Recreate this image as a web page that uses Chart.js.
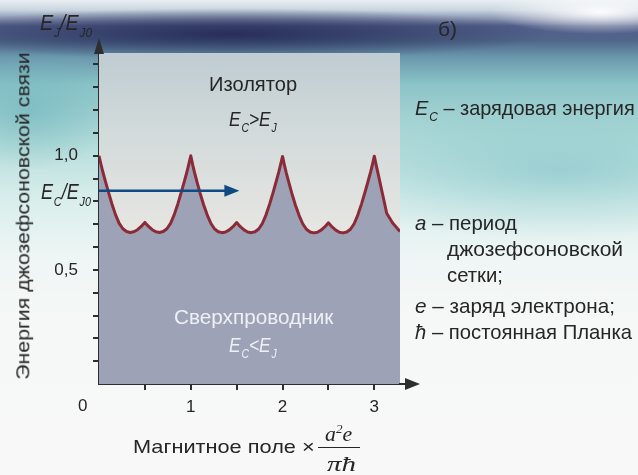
<!DOCTYPE html>
<html lang="ru">
<head>
<meta charset="utf-8">
<script src="https://cdn.jsdelivr.net/npm/chart.js@4"></script>
<style>
html,body{margin:0;padding:0}
body{
  width:638px;height:475px;overflow:hidden;position:relative;
  font-family:'Liberation Sans Narrow','Liberation Sans',Arial,sans-serif;color:#262626;
  background:
    radial-gradient(ellipse 110px 22px at 600px 12px, rgba(255,255,255,0.95), rgba(255,255,255,0)),
    radial-gradient(ellipse 320px 26px at 230px 34px, rgba(34,40,84,0.9), rgba(34,40,84,0)),
    radial-gradient(ellipse 260px 70px at 560px 170px, rgba(120,190,196,0.55), rgba(120,190,196,0)),
    radial-gradient(ellipse 90px 60px at 30px 110px, rgba(110,180,188,0.6), rgba(110,180,188,0)),
    linear-gradient(to bottom,#e9eff3 0px,#c9d5df 10px,#535f8a 26px,#4f6589 40px,#6b9aae 58px,#8cc4c8 85px,#b3dcda 140px,#d9eeec 200px,#eff6f5 260px,#f6f8f7 330px,#f8f8f8 475px);
}
#chartBox{position:absolute;left:0;top:0;width:638px;height:475px}
.t{position:absolute;white-space:nowrap;line-height:1}
.m{font-style:italic}
.s{font-size:0.6em;position:relative;top:0.5em;margin-left:1px}
.serif{font-family:'Liberation Serif','DejaVu Serif',serif;font-style:italic}
</style>
</head>
<body>
<div id="chartBox"><canvas id="chart" width="638" height="475"></canvas></div>

<div class="t m" id="tYUnit" style="font-size:22px">E<span class="s">J</span>/E<span class="s">J0</span></div>
<div class="t" id="tPanel" style="font-size:21px">б)</div>
<div class="t" id="tYTitle" style="font-size:18px">Энергия джозефсоновской связи</div>
<div class="t" id="tInsulator" style="font-size:21px">Изолятор</div>
<div class="t m" id="tInsCond" style="font-size:21px">E<span class="s">C</span>&gt;E<span class="s">J</span></div>
<div class="t m" id="tLevel" style="font-size:22px">E<span class="s">C</span>/E<span class="s">J0</span></div>
<div class="t" id="tSuper" style="font-size:21px;color:#eef0f6">Сверхпроводник</div>
<div class="t m" id="tSupCond" style="font-size:21px;color:#eef0f6">E<span class="s">C</span>&lt;E<span class="s">J</span></div>
<div class="t" id="tZero" style="font-size:17px">0</div>
<div class="t" id="tXTitle" style="font-size:19px">Магнитное поле ×</div>
<div class="t serif" id="tNum" style="font-size:21px">a<sup style="font-size:0.6em">2</sup>e</div>
<div class="t" id="tBar" style="height:1.4px;background:#262626;width:42px"></div>
<div class="t serif" id="tDen" style="font-size:21px">πħ</div>
<div class="t" id="nEc" style="font-size:21px"><span class="m">E</span><span class="m s">C</span> – зарядовая энергия</div>
<div class="t" id="nA1" style="font-size:21px"><span class="m">a</span> – период</div>
<div class="t" id="nA2" style="font-size:21px">джозефсоновской</div>
<div class="t" id="nA3" style="font-size:21px">сетки;</div>
<div class="t" id="nE" style="font-size:21px"><span class="m">e</span> – заряд электрона;</div>
<div class="t" id="nH" style="font-size:21px"><span class="m">ħ</span> – постоянная Планка</div>

<script>
// Magnetic field (in units of a²e/πħ) and Josephson energy E_J/E_J0 along the curve
const fieldX = [
  0.00, 0.02, 0.04, 0.07, 0.10, 0.14, 0.18, 0.22, 0.26, 0.30, 0.34, 0.38, 0.42, 0.46,
  0.50, 0.54, 0.58, 0.62, 0.66, 0.70, 0.74, 0.78, 0.82, 0.86, 0.90, 0.93, 0.96, 0.98,
  1.00, 1.02, 1.04, 1.07, 1.10, 1.14, 1.18, 1.22, 1.26, 1.30, 1.34, 1.38, 1.42, 1.46,
  1.50, 1.54, 1.58, 1.62, 1.66, 1.70, 1.74, 1.78, 1.82, 1.86, 1.90, 1.93, 1.96, 1.98,
  2.00, 2.02, 2.04, 2.07, 2.10, 2.14, 2.18, 2.22, 2.26, 2.30, 2.34, 2.38, 2.42, 2.46,
  2.50, 2.54, 2.58, 2.62, 2.66, 2.70, 2.74, 2.78, 2.82, 2.86, 2.90, 2.93, 2.96, 2.98,
  3.00, 3.02, 3.05, 3.08, 3.11, 3.135, 3.20, 3.28
];
const energyJ = [
  1.000, 0.965, 0.932, 0.888, 0.845, 0.790, 0.742, 0.704, 0.680, 0.668, 0.664, 0.667, 0.676, 0.690,
  0.708, 0.690, 0.676, 0.667, 0.664, 0.668, 0.680, 0.704, 0.742, 0.790, 0.845, 0.888, 0.932, 0.965,
  1.000, 0.962, 0.928, 0.882, 0.838, 0.785, 0.740, 0.703, 0.679, 0.667, 0.663, 0.666, 0.675, 0.689,
  0.707, 0.689, 0.675, 0.666, 0.663, 0.667, 0.679, 0.703, 0.741, 0.789, 0.843, 0.886, 0.930, 0.963,
  0.997, 0.960, 0.926, 0.881, 0.837, 0.784, 0.739, 0.702, 0.678, 0.666, 0.662, 0.665, 0.674, 0.688,
  0.706, 0.688, 0.674, 0.665, 0.662, 0.666, 0.678, 0.702, 0.740, 0.788, 0.842, 0.885, 0.929, 0.962,
  0.998, 0.960, 0.905, 0.850, 0.795, 0.748, 0.705, 0.668
];

// Charge energy level E_C/E_J0 and how far its arrow reaches along the field axis
const chargeLevel = 0.847;
const chargeArrowX = [0, 1.53];

// Axis ticks
const xTickValues = [0.5, 1, 1.5, 2, 2.5, 3];
const xLabelValues = [1, 2, 3];
const xLabelText = ['1', '2', '3'];
const yTickValues = [0.1, 0.2, 0.3, 0.4, 0.5, 0.6, 0.7, 0.8, 0.9, 1.0, 1.1, 1.2, 1.3, 1.4];
const yLabelValues = [0.5, 1.0];
const yLabelText = ['0,5', '1,0'];
const xRange = [0, 3.28];
const yRange = [0, 1.45];

const FONT = "'Liberation Sans Narrow','Liberation Sans',Arial,sans-serif";
const AXIS = '#2e2e2e';

const curvePoints = fieldX.map((x, i) => ({ x, y: energyJ[i] }));

// Light backdrop of the insulating region
const backdrop = {
  id: 'backdrop',
  beforeDatasetsDraw(chart) {
    const { ctx, chartArea: a } = chart;
    const g = ctx.createLinearGradient(0, a.top, 0, a.bottom);
    g.addColorStop(0, '#bfccd2');
    g.addColorStop(0.25, '#d3dbdb');
    g.addColorStop(0.55, '#e7e6e2');
    g.addColorStop(1, '#ede9e5');
    ctx.save();
    ctx.fillStyle = g;
    ctx.fillRect(a.left, a.top, a.right - a.left, a.bottom - a.top);
    ctx.restore();
  }
};

// Arrowheads on both axes and on the charge-energy line
const arrows = {
  id: 'arrows',
  afterDraw(chart) {
    const { ctx, chartArea: a, scales } = chart;
    ctx.save();
    ctx.fillStyle = AXIS;
    ctx.strokeStyle = AXIS;
    ctx.lineWidth = 2;
    // y axis
    ctx.beginPath();
    ctx.moveTo(a.left - 5, a.top + 1);
    ctx.lineTo(a.left + 5, a.top + 1);
    ctx.lineTo(a.left, a.top - 15);
    ctx.closePath();
    ctx.fill();
    // x axis
    ctx.beginPath();
    ctx.moveTo(a.right - 1, a.bottom);
    ctx.lineTo(a.right + 6, a.bottom);
    ctx.stroke();
    ctx.beginPath();
    ctx.moveTo(a.right + 5, a.bottom - 6);
    ctx.lineTo(a.right + 5, a.bottom + 6);
    ctx.lineTo(a.right + 20, a.bottom);
    ctx.closePath();
    ctx.fill();
    // charge level arrow head
    const tx = scales.x.getPixelForValue(chargeArrowX[1]);
    const ty = scales.y.getPixelForValue(chargeLevel);
    ctx.fillStyle = '#0f4a82';
    ctx.beginPath();
    ctx.moveTo(tx, ty);
    ctx.lineTo(tx - 15, ty - 6);
    ctx.lineTo(tx - 15, ty + 6);
    ctx.closePath();
    ctx.fill();
    ctx.restore();
  }
};

new Chart(document.getElementById('chart'), {
  type: 'line',
  data: {
    datasets: [
      {
        data: [{ x: chargeArrowX[0], y: chargeLevel }, { x: chargeArrowX[1] - 0.1, y: chargeLevel }],
        borderColor: '#0f4a82',
        borderWidth: 2.5,
        pointRadius: 0,
        fill: false
      },
      {
        data: curvePoints,
        borderColor: '#8b2b37',
        borderWidth: 3,
        backgroundColor: '#9ea2b6',
        fill: 'origin',
        pointRadius: 0,
        tension: 0,
        borderJoinStyle: 'round'
      }
    ]
  },
  options: {
    responsive: false,
    animation: false,
    events: [],
    layout: { padding: { top: 53, right: 238, left: 0, bottom: 0 } },
    plugins: { legend: { display: false }, tooltip: { enabled: false } },
    scales: {
      x: {
        type: 'linear',
        min: xRange[0],
        max: xRange[1],
        afterBuildTicks(s) { s.ticks = xTickValues.map(v => ({ value: v })); },
        afterFit(s) { s.height = 91; },
        ticks: {
          padding: 7,
          color: '#262626',
          font: { family: FONT, size: 17 },
          callback(v) { const i = xLabelValues.indexOf(v); return i >= 0 ? xLabelText[i] : ''; }
        },
        grid: { drawOnChartArea: false, drawTicks: true, tickLength: 6, color: AXIS, lineWidth: 2 },
        border: { display: true, color: AXIS, width: 2 }
      },
      y: {
        type: 'linear',
        min: yRange[0],
        max: yRange[1],
        afterBuildTicks(s) { s.ticks = yTickValues.map(v => ({ value: v })); },
        afterFit(s) { s.width = 99; },
        ticks: {
          padding: 15,
          color: '#262626',
          font: { family: FONT, size: 17 },
          callback(v) {
            const i = yLabelValues.findIndex(u => Math.abs(u - v) < 1e-9);
            return i >= 0 ? yLabelText[i] : '';
          }
        },
        grid: { drawOnChartArea: false, drawTicks: true, tickLength: 6, color: AXIS, lineWidth: 2 },
        border: { display: true, color: AXIS, width: 2 }
      }
    }
  },
  plugins: [backdrop, arrows]
});

// Place each caption: anchor point, target width, alignment ('l' left, 'c' centre), optional rotation
function place(id, x, y, w, align, rot) {
  const el = document.getElementById(id);
  const nw = el.offsetWidth, nh = el.offsetHeight;
  const k = w ? w / nw : 1;
  el.style.top = (y - nh / 2) + 'px';
  if (rot) {
    el.style.left = (x - nw / 2) + 'px';
    el.style.transformOrigin = 'center center';
    el.style.transform = 'rotate(' + rot + 'deg) scaleX(' + k + ')';
  } else if (align === 'c') {
    el.style.left = (x - nw / 2) + 'px';
    el.style.transformOrigin = 'center center';
    el.style.transform = 'scaleX(' + k + ')';
  } else {
    el.style.left = x + 'px';
    el.style.transformOrigin = 'left center';
    el.style.transform = 'scaleX(' + k + ')';
  }
}
place('tYUnit', 40, 23, 52, 'l');
place('tPanel', 438, 28, 0, 'l');
place('tYTitle', 23, 216, 328, 'c', -90);
place('tInsulator', 253, 83, 88, 'c');
place('tInsCond', 253, 118, 48, 'c');
place('tLevel', 41, 192, 50, 'l');
place('tSuper', 253, 316, 159, 'c');
place('tSupCond', 253, 344, 48, 'c');
place('tZero', 78, 405, 0, 'l');
place('tXTitle', 133, 446, 182, 'l');
place('tNum', 325, 434, 27, 'l');
place('tBar', 318, 447, 0, 'l');
place('tDen', 327, 464, 29, 'l');
place('nEc', 415, 107, 220, 'l');
place('nA1', 415, 222, 102, 'l');
place('nA2', 447, 248, 176, 'l');
place('nA3', 447, 274, 56, 'l');
place('nE', 415, 305, 200, 'l');
place('nH', 415, 331, 217, 'l');
</script>
</body>
</html>
